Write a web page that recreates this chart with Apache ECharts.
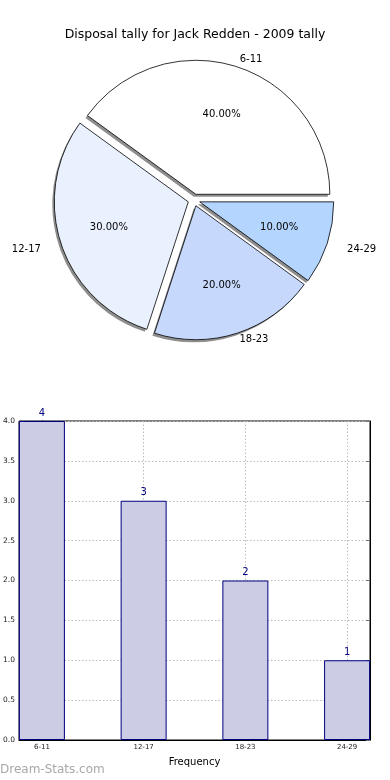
<!DOCTYPE html>
<html>
<head>
<meta charset="utf-8">
<script src="https://cdn.jsdelivr.net/npm/echarts@6/dist/echarts.min.js"></script>
<style>
html,body{margin:0;padding:0;background:#fff;}
#main{width:390px;height:780px;}
</style>
</head>
<body>
<div id="main"></div>
<script>
var titleText = 'Disposal tally for Jack Redden - 2009 tally';
var categories = ['6-11', '12-17', '18-23', '24-29'];
var counts = [4, 3, 2, 1];
var sliceColors = ['#ffffff', '#eaf1fe', '#c6d9fd', '#b4d5fe'];
var labelLens = [8, 21, 7, 21];

var chart = echarts.init(document.getElementById('main'), null, {renderer: 'canvas'});

var total = counts.reduce(function (a, b) { return a + b; }, 0);

var pieMain = categories.map(function (c, i) {
  return {
    name: c,
    value: counts[i],
    selected: true,
    itemStyle: {color: sliceColors[i]},
    labelLine: {length: labelLens[i]}
  };
});
var piePlain = categories.map(function (c, i) {
  return {name: c, value: counts[i], selected: true};
});
var barData = categories.map(function (c, i) { return [i, counts[i]]; });
var idx = categories.map(function (c, i) { return i; });

var pieCommon = {
  type: 'pie',
  startAngle: 0,
  clockwise: false,
  selectedMode: 'multiple',
  selectedOffset: 6,
  avoidLabelOverlap: false,
  silent: true,
  emphasis: {disabled: true}
};

var option = {
  animation: false,
  textStyle: {fontFamily: 'DejaVu Sans'},
  title: {
    text: titleText,
    left: 'center',
    top: 23,
    textStyle: {fontSize: 12.5, fontWeight: 'normal', color: '#000', fontFamily: 'DejaVu Sans'}
  },
  grid: {
    left: 19, right: 20, top: 421, bottom: 40,
    show: true, borderColor: '#000', borderWidth: 1, backgroundColor: 'transparent'
  },
  xAxis: [{
    type: 'value',
    min: -0.225,
    max: 3.225,
    name: 'Frequency',
    nameLocation: 'middle',
    nameGap: 17,
    nameTextStyle: {fontSize: 10, color: '#000'},
    axisLine: {show: true, lineStyle: {color: '#000', width: 1}},
    axisTick: {show: true, inside: true, length: 4, customValues: idx, lineStyle: {color: '#000'}},
    axisLabel: {
      show: true, fontSize: 7, color: '#222', margin: 4,
      customValues: idx,
      formatter: function (v) { return categories[Math.round(v)]; }
    },
    splitLine: {show: true, lineStyle: {color: '#bcbcbc', type: [1.5, 2], width: 1}}
  }],
  yAxis: [{
    type: 'value',
    min: 0, max: 4, interval: 0.5,
    axisLine: {show: true, lineStyle: {color: '#000', width: 1}},
    axisTick: {show: true, inside: true, length: 4, lineStyle: {color: '#000'}},
    axisLabel: {fontSize: 7.5, color: '#222', margin: 4, formatter: function (v) { return v.toFixed(1); }},
    splitLine: {show: true, lineStyle: {color: '#bcbcbc', type: [1.5, 2], width: 1}}
  }, {
    type: 'value',
    position: 'right',
    min: 0, max: 4, interval: 0.5,
    axisLine: {show: true, lineStyle: {color: '#000', width: 1}},
    axisTick: {show: true, inside: true, length: 4, lineStyle: {color: '#777'}},
    axisLabel: {show: false},
    splitLine: {show: false}
  }],
  graphic: [{
    type: 'text',
    left: 0,
    top: 764,
    style: {text: 'Dream-Stats.com', fontSize: 12, fill: '#a8a8a8', fontFamily: 'DejaVu Sans'}
  }],
  series: [
    Object.assign({}, pieCommon, {
      center: [192, 202.5],
      radius: 134,
      itemStyle: {color: '#8e8e8e', borderWidth: 0},
      label: {show: false},
      labelLine: {show: false},
      data: piePlain
    }),
    Object.assign({}, pieCommon, {
      center: [194, 200],
      radius: 134,
      itemStyle: {borderColor: '#000', borderWidth: 0.8},
      label: {
        show: true, position: 'outside', formatter: '{b}',
        fontSize: 10, color: '#000', distanceToLabelLine: 0
      },
      labelLine: {show: false, length: 7, length2: 0},
      data: pieMain
    }),
    Object.assign({}, pieCommon, {
      center: [194, 200],
      radius: [78, 83],
      itemStyle: {color: 'rgba(0,0,0,0)', borderWidth: 0},
      label: {
        show: true, position: 'inside', fontSize: 10, color: '#000',
        formatter: function (p) { return (p.value / total * 100).toFixed(2) + '%'; }
      },
      labelLine: {show: false},
      data: piePlain
    }),
    {
      type: 'bar',
      xAxisIndex: 0,
      yAxisIndex: 0,
      barWidth: 46,
      itemStyle: {color: 'rgba(204,204,229,1)', borderColor: '#000080', borderWidth: 1},
      label: {show: true, position: 'top', distance: 3, fontSize: 10, color: '#000080'},
      emphasis: {disabled: true},
      data: barData
    }
  ]
};
chart.setOption(option);
</script>
</body>
</html>
